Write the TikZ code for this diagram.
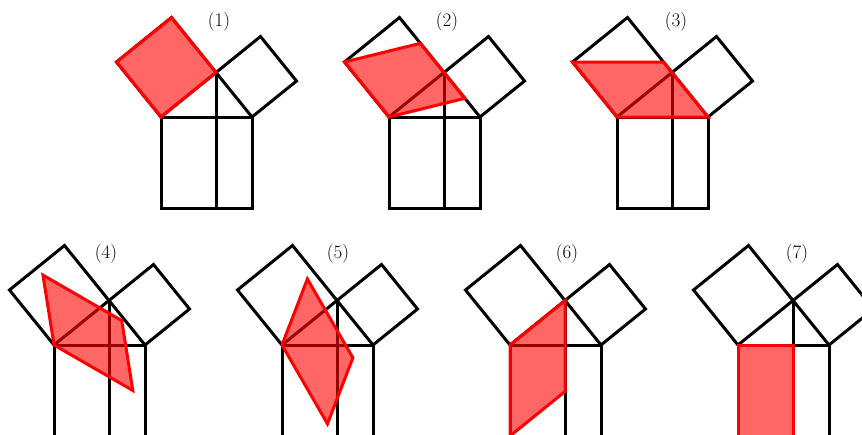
\documentclass[tikz,border=0pt]{standalone}
\newcommand\pythfig{%
  \draw[fig] (0,0) rectangle (91,91);
  \draw[fig] (55,-44.5) -- (55,91);
  \draw[fig] (0,0) -- (-44.5,-55) -- (10.5,-99.5) -- (55,-44.5) -- cycle;
  \draw[fig] (91,0) -- (135.5,-36) -- (99.5,-80.5) -- (55,-44.5) -- cycle;
}
\begin{document}
\begin{tikzpicture}[x=1pt,y=-1pt,
  fig/.style={draw=black,line width=3pt},
  hl/.style={draw=red,line width=3pt,fill=red,fill opacity=0.6},
  lbl/.style={font=\fontsize{19}{22}\selectfont,inner sep=0pt}]
\clip (0,0) rectangle (862,434);
% (1)
\begin{scope}[shift={(161,117)}]
  \pythfig
  \draw[hl] (0,0) -- (-44.5,-55) -- (10.5,-99.5) -- (55,-44.5) -- cycle;
\end{scope}
% (2)
\begin{scope}[shift={(389,117)}]
  \pythfig
  \draw[hl] (0,0) -- (-44.5,-55) -- (31.4,-73.7) -- (75.9,-18.7) -- cycle;
\end{scope}
% (3)
\begin{scope}[shift={(617,117)}]
  \pythfig
  \draw[hl] (0,0) -- (-44.5,-55) -- (46.5,-55) -- (91,0) -- cycle;
\end{scope}
% (4)
\begin{scope}[shift={(54,345)}]
  \pythfig
  \draw[hl] (0,0) -- (-11.04,-69.88) -- (67.77,-24.38) -- (78.81,45.5) -- cycle;
\end{scope}
% (5)
\begin{scope}[shift={(282,345)}]
  \pythfig
  \draw[hl] (0,0) -- (25.38,-66.04) -- (70.88,12.77) -- (45.5,78.81) -- cycle;
\end{scope}
% (6)
\begin{scope}[shift={(510,345)}]
  \pythfig
  \draw[hl] (0,0) -- (55,-44.5) -- (55,46.5) -- (0,91) -- cycle;
\end{scope}
% (7)
\begin{scope}[shift={(738,345)}]
  \pythfig
  \draw[hl] (0,0) -- (55,0) -- (55,91) -- (0,91) -- cycle;
\end{scope}
\node[lbl] (l1) at (219,22) {(1)};
\node[lbl] (l2) at (447,22) {(2)};
\node[lbl] (l3) at (676,22) {(3)};
\node[lbl] (l4) at (106,254) {(4)};
\node[lbl] (l5) at (338,254) {(5)};
\node[lbl] (l6) at (567,254) {(6)};
\node[lbl] (l7) at (797,254) {(7)};
\end{tikzpicture}
\end{document}
